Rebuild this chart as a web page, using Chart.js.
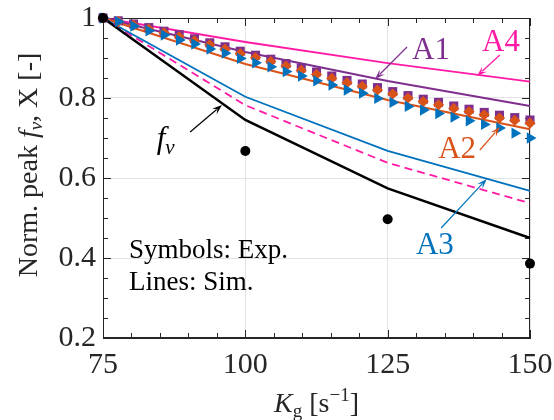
<!DOCTYPE html>
<html>
<head>
<meta charset="utf-8">
<script src="https://cdn.jsdelivr.net/npm/chart.js@4.4.1/dist/chart.umd.min.js"></script>
<style>
  html, body { margin: 0; padding: 0; background: #fff; }
  #wrap { width: 554px; height: 420px; position: relative; }
</style>
</head>
<body>
<div id="wrap"><canvas id="chart"></canvas></div>
<script>
// --- data ---
const xTickValues = [75, 100, 125, 150];
const xTickLabels = ['75', '100', '125', '150'];
const yTickValues = [0.2, 0.4, 0.6, 0.8, 1];
const yTickLabels = ['0.2', '0.4', '0.6', '0.8', '1'];

// simulations (lines)
const simKg = [75, 100, 125, 150];
const simFv = [1, 0.745, 0.574, 0.45];
const simDashed = [1, 0.782, 0.638, 0.537];
const simA1 = [1, 0.915, 0.8425, 0.78];
const simA2 = [1, 0.885, 0.795, 0.722];
const simA3 = [1, 0.803, 0.668, 0.568];
const simA4 = [1, 0.94, 0.887, 0.841];

// experiments (symbols)
const expFvKg = [75, 100, 125, 150];
const expFv = [1, 0.6675, 0.497, 0.386];
const expKg = [75, 77.68, 80.36, 83.04, 85.71, 88.39, 91.07, 93.75, 96.43, 99.11,
  101.79, 104.46, 107.14, 109.82, 112.5, 115.18, 117.86, 120.54, 123.21, 125.89,
  128.57, 131.25, 133.93, 136.61, 139.29, 141.96, 144.64, 147.32, 150];
const expSquares = [1, 0.993, 0.985, 0.976, 0.967, 0.958, 0.948, 0.938, 0.928, 0.917,
  0.907, 0.897, 0.886, 0.875, 0.865, 0.855, 0.844, 0.835, 0.826, 0.816,
  0.806, 0.797, 0.789, 0.780, 0.772, 0.764, 0.757, 0.751, 0.745];
const expDiamonds = [1, 0.991, 0.982, 0.972, 0.963, 0.953, 0.943, 0.933, 0.922, 0.911,
  0.901, 0.891, 0.880, 0.869, 0.859, 0.849, 0.838, 0.829, 0.820, 0.810,
  0.800, 0.791, 0.783, 0.774, 0.766, 0.758, 0.750, 0.744, 0.737];
const expTriangles = [1, 0.991, 0.980, 0.968, 0.9575, 0.945, 0.935, 0.9225, 0.912, 0.899,
  0.888, 0.878, 0.866, 0.855, 0.843, 0.8325, 0.820, 0.812, 0.799, 0.789,
  0.779, 0.770, 0.761, 0.752, 0.743, 0.734, 0.725, 0.712, 0.700];

const BLACK = '#000000';
const PURPLE = '#7e2f8e';
const ORANGE = '#d95319';
const BLUE = '#0072bd';
const PINK = '#ff1aa6';
const AXIS = '#262626';
const SERIF = "'Liberation Serif', 'Times New Roman', serif";

const pts = (xs, ys) => xs.map((x, i) => ({ x: x, y: ys[i] }));

function lineSet(xs, ys, color, width, dash) {
  return {
    data: pts(xs, ys), showLine: true, borderColor: color, borderWidth: width,
    borderDash: dash || [], pointRadius: 0, tension: 0, fill: false, clip: false
  };
}
function markSet(xs, ys, color, style, radius, rotation) {
  return {
    data: pts(xs, ys), showLine: false, pointStyle: style, pointRadius: radius,
    pointRotation: rotation || 0, backgroundColor: color, borderColor: color,
    borderWidth: 0, clip: false
  };
}

// first in list is drawn on top
const datasets = [
  markSet(expFvKg, expFv, BLACK, 'circle', 5),
  markSet(expKg, expTriangles, BLUE, 'triangle', 6.5, 90),
  markSet(expKg, expDiamonds, ORANGE, 'rectRot', 5.6),
  markSet(expKg, expSquares, PURPLE, 'rect', 6.4),
  lineSet(simKg, simFv, BLACK, 2.5),
  lineSet(simKg, simA3, BLUE, 1.8),
  lineSet(simKg, simDashed, PINK, 1.8, [8, 5]),
  lineSet(simKg, simA2, ORANGE, 2),
  lineSet(simKg, simA1, PURPLE, 2),
  lineSet(simKg, simA4, PINK, 1.8)
];

function richText(ctx, parts, cx, cy) {
  // parts: [text, font, dy]
  let total = 0;
  parts.forEach(p => { ctx.font = p[1]; total += ctx.measureText(p[0]).width; });
  let x = cx - total / 2;
  ctx.textAlign = 'left';
  ctx.textBaseline = 'alphabetic';
  parts.forEach(p => {
    ctx.font = p[1];
    ctx.fillText(p[0], x, cy + (p[2] || 0));
    x += ctx.measureText(p[0]).width;
  });
}

function arrow(ctx, xs, ys, x0, y0, x1, y1, color) {
  const ax = xs.getPixelForValue(x0), ay = ys.getPixelForValue(y0);
  const bx = xs.getPixelForValue(x1), by = ys.getPixelForValue(y1);
  const ang = Math.atan2(by - ay, bx - ax);
  const L = 10, W = 3.5;
  ctx.strokeStyle = color; ctx.fillStyle = color; ctx.lineWidth = 1.2;
  ctx.beginPath(); ctx.moveTo(ax, ay);
  ctx.lineTo(bx - Math.cos(ang) * L * 0.7, by - Math.sin(ang) * L * 0.7); ctx.stroke();
  ctx.beginPath();
  ctx.moveTo(bx, by);
  ctx.lineTo(bx - Math.cos(ang) * L - Math.sin(ang) * W, by - Math.sin(ang) * L + Math.cos(ang) * W);
  ctx.lineTo(bx - Math.cos(ang) * L * 0.6, by - Math.sin(ang) * L * 0.6);
  ctx.lineTo(bx - Math.cos(ang) * L + Math.sin(ang) * W, by - Math.sin(ang) * L - Math.cos(ang) * W);
  ctx.closePath(); ctx.fill();
}

const framePlugin = {
  id: 'frame',
  beforeDatasetsDraw(chart) {
    const { ctx, chartArea: a, scales } = chart;
    const xs = scales.x, ys = scales.y;
    ctx.save();
    ctx.strokeStyle = AXIS; ctx.lineWidth = 1;
    ctx.strokeRect(a.left + 0.5, a.top + 0.5, a.right - a.left - 1, a.bottom - a.top - 1);
    ctx.beginPath();
    for (let v = 75; v <= 150.01; v += 5) {
      const px = Math.round(xs.getPixelForValue(v)) + 0.5;
      const len = (v % 25 === 0) ? 8 : 5;
      ctx.moveTo(px, a.bottom); ctx.lineTo(px, a.bottom - len);
      ctx.moveTo(px, a.top); ctx.lineTo(px, a.top + len);
    }
    for (let k = 4; k <= 20; k++) {
      const v = k * 0.05;
      const py = Math.round(ys.getPixelForValue(v)) + 0.5;
      const len = (k % 4 === 0) ? 8 : 5;
      ctx.moveTo(a.left, py); ctx.lineTo(a.left + len, py);
      ctx.moveTo(a.right, py); ctx.lineTo(a.right - len, py);
    }
    ctx.stroke();
    ctx.restore();
  },
  afterDraw(chart) {
    const { ctx, chartArea: a, scales } = chart;
    const xs = scales.x, ys = scales.y;
    const X = v => xs.getPixelForValue(v), Y = v => ys.getPixelForValue(v);
    ctx.save();

    // axis titles
    ctx.fillStyle = AXIS;
    ctx.save();
    ctx.translate(37, 165);
    ctx.rotate(-Math.PI / 2);
    richText(ctx, [
      ['Norm. peak ', '28px ' + SERIF],
      ['f', 'italic 28px ' + SERIF],
      ['v', 'italic 19px ' + SERIF, 5],
      [', X [-]', '28px ' + SERIF]
    ], 0, 0);
    ctx.restore();
    richText(ctx, [
      ['K', 'italic 28px ' + SERIF],
      ['g', '19px ' + SERIF, 5],
      [' [s', '28px ' + SERIF],
      ['\u22121', '19px ' + SERIF, -11],
      [']', '28px ' + SERIF]
    ], (a.left + a.right) / 2, 412);

    // in-plot notes
    ctx.fillStyle = BLACK;
    ctx.font = '27px ' + SERIF;
    ctx.textAlign = 'left'; ctx.textBaseline = 'alphabetic';
    ctx.fillText('Symbols: Exp.', 129, 258);
    ctx.fillText('Lines: Sim.', 129, 290);

    richText(ctx, [
      ['f', 'italic 31px ' + SERIF],
      ['v', 'italic 21px ' + SERIF, 6]
    ], X(86), Y(0.675));

    // series labels
    ctx.font = '31px ' + SERIF;
    ctx.textAlign = 'center'; ctx.textBaseline = 'middle';
    ctx.fillStyle = PURPLE; ctx.fillText('A1', X(132.6), Y(0.9175));
    ctx.fillStyle = PINK; ctx.fillText('A4', X(144.9), Y(0.9375));
    ctx.fillStyle = ORANGE; ctx.fillText('A2', X(137.2), Y(0.67));
    ctx.fillStyle = BLUE; ctx.fillText('A3', X(133.3), Y(0.43));

    arrow(ctx, xs, ys, 90.3, 0.715, 95.9, 0.7825, BLACK);
    arrow(ctx, xs, ys, 128.4, 0.9275, 122.8, 0.8475, PURPLE);
    arrow(ctx, xs, ys, 144.7, 0.9075, 140.7, 0.855, PINK);
    arrow(ctx, xs, ys, 141.2, 0.67, 144.7, 0.7275, ORANGE);
    arrow(ctx, xs, ys, 134.4, 0.475, 142.4, 0.5975, BLUE);
    ctx.restore();
  }
};

new Chart(document.getElementById('chart'), {
  type: 'scatter',
  data: { datasets: datasets },
  options: {
    responsive: true,
    maintainAspectRatio: false,
    animation: false,
    devicePixelRatio: 1,
    layout: { padding: { top: 18, right: 24, left: 0, bottom: 0 } },
    plugins: { legend: { display: false }, tooltip: { enabled: false } },
    scales: {
      x: {
        type: 'linear', min: 75, max: 150,
        afterBuildTicks: s => { s.ticks = xTickValues.map(v => ({ value: v })); },
        afterFit: s => { s.height = 82; s.paddingLeft = 0; s.paddingRight = 0; },
        ticks: {
          callback: v => xTickLabels[xTickValues.indexOf(v)],
          font: { family: SERIF, size: 30 }, color: AXIS, padding: 9,
          maxRotation: 0, autoSkip: false
        },
        grid: { color: '#e3e3e3', drawTicks: false },
        border: { color: AXIS }
      },
      y: {
        type: 'linear', min: 0.2, max: 1,
        afterBuildTicks: s => { s.ticks = yTickValues.map(v => ({ value: v })); },
        afterFit: s => { s.width = 103; s.paddingTop = 0; s.paddingBottom = 0; },
        ticks: {
          callback: v => yTickLabels[yTickValues.findIndex(t => Math.abs(t - v) < 1e-6)],
          font: { family: SERIF, size: 30 }, color: AXIS, padding: 7,
          autoSkip: false
        },
        grid: { color: '#e3e3e3', drawTicks: false },
        border: { color: AXIS }
      }
    }
  },
  plugins: [framePlugin]
});
</script>
</body>
</html>
